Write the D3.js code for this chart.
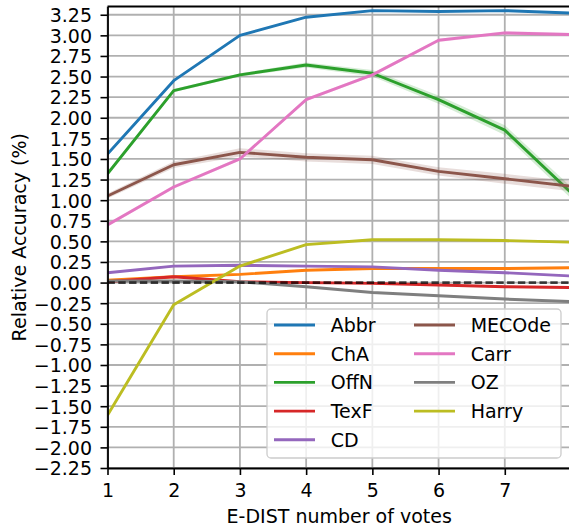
<!DOCTYPE html>
<html><head><meta charset="utf-8">
<script src="https://cdn.jsdelivr.net/npm/d3@7"></script>
<style>body{margin:0;background:#fff}svg{display:block}text{font-family:"DejaVu Sans",sans-serif}</style>
</head><body><svg id="c" width="569" height="527"></svg>
<script>
const votes = [1,2,3,4,5,6,7,8];
const seriesNames = ["Abbr","ChA","OffN","TexF","CD","MECOde","Carr","OZ","Harry"];
const colors = ["#1f77b4","#ff7f0e","#2ca02c","#d62728","#9467bd","#8c564b","#e377c2","#7f7f7f","#bcbd22"];
const abbr   = [1.56,2.45,3.00,3.22,3.30,3.29,3.30,3.27];
const cha    = [0.03,0.07,0.10,0.15,0.17,0.17,0.17,0.18];
const offn   = [1.32,2.33,2.52,2.64,2.54,2.22,1.85,1.09];
const texf   = [0.01,0.07,0.01,0.00,-0.01,-0.03,-0.05,-0.06];
const cd     = [0.12,0.20,0.21,0.20,0.19,0.15,0.12,0.08];
const mecode = [1.05,1.43,1.58,1.52,1.49,1.35,1.26,1.17];
const carr   = [0.70,1.16,1.50,2.22,2.52,2.94,3.03,3.01];
const oz     = [0.02,0.02,0.01,-0.05,-0.12,-0.16,-0.20,-0.23];
const harry  = [-1.61,-0.27,0.20,0.46,0.52,0.52,0.51,0.49];
// confidence half-widths (shaded bands)
const ciAbbr   = [0.01,0.01,0.01,0.01,0.01,0.01,0.01,0.01];
const ciCha    = [0.01,0.01,0.01,0.01,0.01,0.01,0.01,0.01];
const ciOffn   = [0.02,0.02,0.02,0.03,0.04,0.05,0.06,0.07];
const ciTexf   = [0.01,0.01,0.01,0.01,0.01,0.01,0.01,0.01];
const ciCd     = [0.01,0.01,0.01,0.01,0.01,0.01,0.01,0.01];
const ciMecode = [0.03,0.04,0.05,0.05,0.05,0.05,0.06,0.06];
const ciCarr   = [0.02,0.02,0.02,0.02,0.02,0.02,0.02,0.02];
const ciOz     = [0.01,0.01,0.01,0.01,0.01,0.01,0.01,0.01];
const ciHarry  = [0.01,0.01,0.01,0.01,0.01,0.01,0.01,0.01];
const yTicks = [-2.25,-2.0,-1.75,-1.5,-1.25,-1.0,-0.75,-0.5,-0.25,0,0.25,0.5,0.75,1.0,1.25,1.5,1.75,2.0,2.25,2.5,2.75,3.0,3.25];
const xTicks = [1,2,3,4,5,6,7];

const values = [abbr,cha,offn,texf,cd,mecode,carr,oz,harry];
const cis = [ciAbbr,ciCha,ciOffn,ciTexf,ciCd,ciMecode,ciCarr,ciOz,ciHarry];

const FS = 19;
const svg = d3.select("#c");
const L=107.5, R=571, T=6.5, B=468;
const x = d3.scaleLinear().domain([1,8]).range([L,R]);
const y = d3.scaleLinear().domain([-2.25,3.35]).range([B,T]);

svg.append("clipPath").attr("id","clip").append("rect").attr("x",L).attr("y",T).attr("width",R-L).attr("height",B-T);

// grid
const g = svg.append("g");
g.selectAll(".gx").data(xTicks).join("line").attr("x1",d=>x(d)).attr("x2",d=>x(d)).attr("y1",T).attr("y2",B).attr("stroke","#b0b0b0").attr("stroke-width",1.8);
g.selectAll(".gy").data(yTicks).join("line").attr("x1",L).attr("x2",R).attr("y1",d=>y(d)).attr("y2",d=>y(d)).attr("stroke","#b0b0b0").attr("stroke-width",1.8);

const plot = svg.append("g").attr("clip-path","url(#clip)");
const area = d3.area().x((d,i)=>x(votes[i])).y0(d=>y(d[0])).y1(d=>y(d[1]));
const line = d3.line().x((d,i)=>x(votes[i])).y(d=>y(d));

values.forEach((vals,k)=>{
  const band = vals.map((v,i)=>[v-cis[k][i], v+cis[k][i]]);
  plot.append("path").attr("d",area(band)).attr("fill",colors[k]).attr("fill-opacity",0.2);
  plot.append("path").attr("d",line(vals)).attr("fill","none").attr("stroke",colors[k]).attr("stroke-width",2.9).attr("stroke-linejoin","round");
});
// zero dashed reference
plot.append("line").attr("x1",L).attr("x2",R).attr("y1",y(0)).attr("y2",y(0))
  .attr("stroke","#000").attr("stroke-opacity",0.7).attr("stroke-width",2.6).attr("stroke-dasharray","7.4,3.4");

// axes
const xa = svg.append("g").attr("transform",`translate(0,${B})`)
  .call(d3.axisBottom(x).tickValues(xTicks).tickFormat(d3.format("d")).tickSize(7).tickSizeOuter(0));
const ya = svg.append("g").attr("transform",`translate(${L},0)`)
  .call(d3.axisLeft(y).tickValues(yTicks).tickFormat(d3.format(".2f")).tickSize(7).tickSizeOuter(0));
[xa,ya].forEach(a=>{
  a.select(".domain").attr("stroke","#000").attr("stroke-width",1.8);
  a.selectAll(".tick line").attr("stroke","#000").attr("stroke-width",1.6);
  a.selectAll("text").attr("font-size",FS).attr("fill","#000");
});
xa.selectAll("text").attr("y",29.3).attr("dy",0);
ya.selectAll("text").attr("x",-15.5).attr("dy","0.36em");
// top spine
svg.append("line").attr("x1",L).attr("x2",R).attr("y1",T).attr("y2",T).attr("stroke","#000").attr("stroke-width",1.8);

svg.append("text").attr("x",(L+569)/2+1).attr("y",522.5).attr("text-anchor","middle").attr("font-size",FS).text("E-DIST number of votes");
svg.append("text").attr("transform",`translate(25.5,${(T+B)/2}) rotate(-90)`).attr("text-anchor","middle").attr("font-size",FS).text("Relative Accuracy (%)");

// legend
const lg = svg.append("g");
lg.append("rect").attr("x",267).attr("y",309).attr("width",294).attr("height",149).attr("rx",4)
  .attr("fill","#fff").attr("fill-opacity",0.8).attr("stroke","#cccccc").attr("stroke-width",1.3);
seriesNames.forEach((n,k)=>{
  const col = k<5?0:1, row = k<5?k:k-5;
  const hx = col===0?274:414, yy = 325+row*28.7;
  lg.append("line").attr("x1",hx).attr("x2",hx+41).attr("y1",yy).attr("y2",yy).attr("stroke",colors[k]).attr("stroke-width",2.9);
  lg.append("text").attr("x",hx+56.7).attr("y",yy).attr("dy","0.36em").attr("font-size",FS).text(n);
});
</script></body></html>
